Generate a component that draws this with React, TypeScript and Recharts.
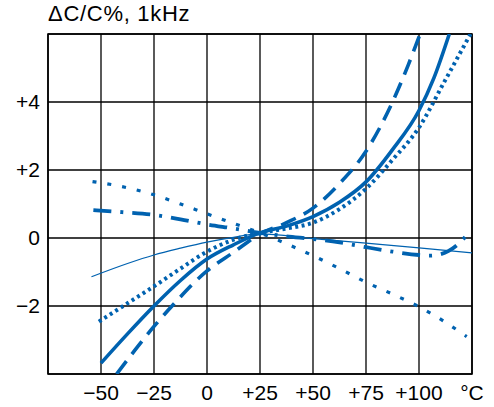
import React from 'react';
import { LineChart, Line, XAxis, YAxis, CartesianGrid, ReferenceArea } from 'recharts';

// temperatures (°C) and ΔC/C (%), one pair of arrays per curve
const solidX = [-50, -37.5, -25, -12.5, 0, 12.5, 25, 37.5, 50, 62.5, 75, 87.5, 100, 107, 114.3];
const solidY = [-3.68, -2.82, -2.0, -1.25, -0.62, -0.2, 0.15, 0.35, 0.63, 1.05, 1.65, 2.6, 3.75, 4.7, 6.0];

const dottedX = [-51, -37.5, -25, -12.5, 0, 12.5, 25, 37.5, 50, 62.5, 75, 87.5, 100, 112, 124.3];
const dottedY = [-2.46, -1.92, -1.42, -0.9, -0.4, -0.05, 0.15, 0.28, 0.45, 0.85, 1.45, 2.3, 3.25, 4.6, 6.0];

const dashedX = [-42.6, -34, -25, -15, -5.7, 0, 12.5, 25, 37.5, 50, 62.5, 75, 87.5, 95, 100.5];
const dashedY = [-4, -3.3, -2.6, -1.9, -1.29, -0.97, -0.42, 0.12, 0.45, 0.88, 1.6, 2.55, 4.0, 5.1, 6.0];

const sparseX = [-54, -40, -25, -12.5, 0, 12.5, 25, 37.5, 50, 62.5, 75, 87.5, 100, 112.5, 122.5];
const sparseY = [1.66, 1.51, 1.27, 1.0, 0.71, 0.43, 0.15, -0.17, -0.52, -0.9, -1.3, -1.65, -2.02, -2.48, -2.9];

const dashDotX = [-53.6, -40, -25, -12.5, 0, 12.5, 25, 37.5, 50, 62.5, 75, 87.5, 100, 105, 110, 114, 118.5, 123.3];
const dashDotY = [0.82, 0.76, 0.68, 0.55, 0.4, 0.28, 0.15, 0.05, -0.03, -0.13, -0.27, -0.4, -0.5, -0.52, -0.48, -0.38, -0.18, 0.14];

const thinX = [-54.5, -37.5, -25, -12.5, 0, 12.5, 25, 50, 75, 100, 125];
const thinY = [-1.14, -0.75, -0.5, -0.3, -0.12, 0.02, 0.12, -0.02, -0.15, -0.29, -0.44];

const xTicks = [-50, -25, 0, 25, 50, 75, 100, 125];
const yTicks = [-2, 0, 2, 4];

const BLUE = '#0062b0';
const FONT = '"Liberation Sans", Arial, Helvetica, sans-serif';

const zip = (xs: number[], ys: number[]) => xs.map((x, i) => ({ x, y: ys[i] }));

const fmtX = (v: number) => {
  if (v === 125) return '°C';
  if (v > 0) return `+${v}`;
  if (v < 0) return `\u2212${Math.abs(v)}`;
  return '0';
};
const fmtY = (v: number) => {
  if (v > 0) return `+${v}`;
  if (v < 0) return `\u2212${Math.abs(v)}`;
  return '0';
};

export default function App() {
  const tick = { fill: '#000', fontSize: 21, fontFamily: FONT };
  return (
    <div style={{ position: 'absolute', left: 0, top: 0, width: 494, height: 407, background: '#fff' }}>
      <div
        style={{
          position: 'absolute',
          left: 48,
          top: 3,
          fontFamily: FONT,
          fontSize: 22,
          lineHeight: 1,
          color: '#000',
          letterSpacing: 0.7,
        }}
      >
        ΔC/C%, 1kHz
      </div>
      <LineChart width={494} height={407} margin={{ top: 34, right: 22, left: 0, bottom: 0 }}>
        <CartesianGrid stroke="#000" strokeWidth={1.3} />
        <XAxis
          type="number"
          dataKey="x"
          domain={[-75, 125]}
          ticks={xTicks}
          tickFormatter={fmtX}
          allowDataOverflow
          height={33}
          tickSize={0}
          tickMargin={11}
          axisLine={false}
          tick={tick}
          interval={0}
        />
        <YAxis
          type="number"
          dataKey="y"
          domain={[-4, 6]}
          ticks={yTicks}
          tickFormatter={fmtY}
          allowDataOverflow
          width={48}
          tickSize={0}
          tickMargin={8}
          axisLine={false}
          tick={tick}
          interval={0}
        />
        <ReferenceArea x1={-75} x2={125} y1={-4} y2={6} fill="none" stroke="#000" strokeWidth={1.6} />
        <Line data={zip(thinX, thinY)} dataKey="y" type="monotone" stroke={BLUE} strokeWidth={1.3} dot={false} isAnimationActive={false} />
        <Line data={zip(sparseX, sparseY)} dataKey="y" type="monotone" stroke={BLUE} strokeWidth={3.2} strokeDasharray="4 11" dot={false} isAnimationActive={false} />
        <Line data={zip(dashDotX, dashDotY)} dataKey="y" type="monotone" stroke={BLUE} strokeWidth={3.8} strokeDasharray="18 9 3 9" dot={false} isAnimationActive={false} />
        <Line data={zip(dashedX, dashedY)} dataKey="y" type="monotone" stroke={BLUE} strokeWidth={3.6} strokeDasharray="16 9" dot={false} isAnimationActive={false} />
        <Line data={zip(dottedX, dottedY)} dataKey="y" type="monotone" stroke={BLUE} strokeWidth={4} strokeDasharray="3 3.5" dot={false} isAnimationActive={false} />
        <Line data={zip(solidX, solidY)} dataKey="y" type="monotone" stroke={BLUE} strokeWidth={3.6} dot={false} isAnimationActive={false} />
      </LineChart>
    </div>
  );
}
